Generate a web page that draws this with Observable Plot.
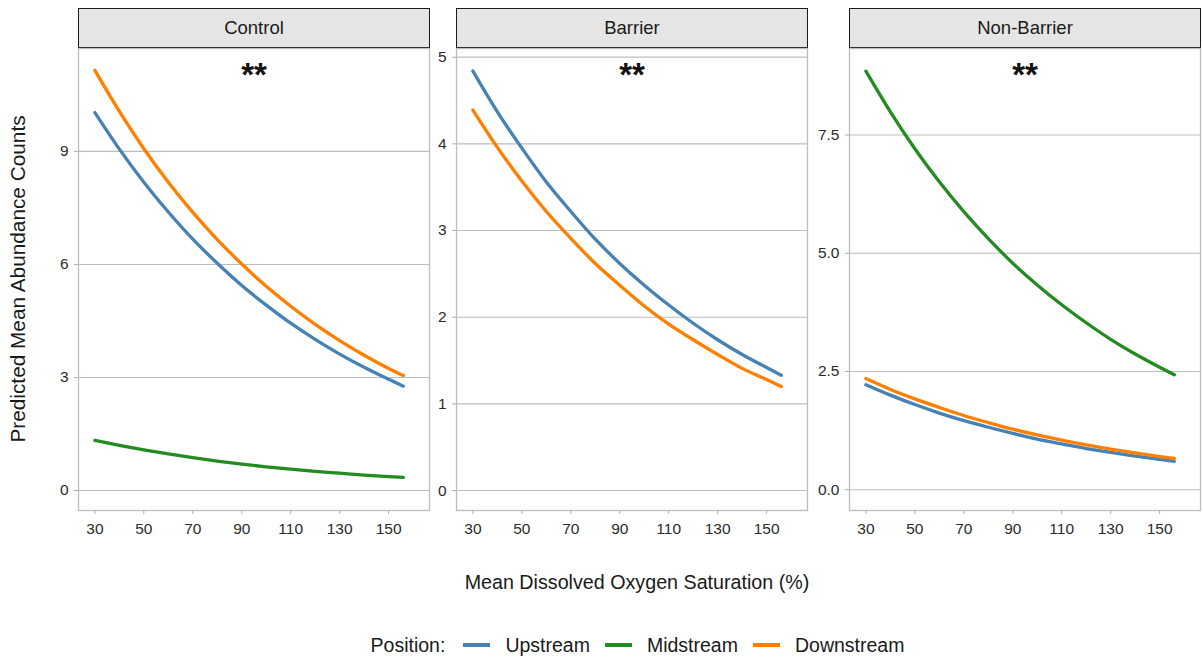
<!DOCTYPE html>
<html>
<head>
<meta charset="utf-8">
<script src="https://cdn.jsdelivr.net/npm/d3@7"></script>
<script src="https://cdn.jsdelivr.net/npm/@observablehq/plot@0.6"></script>
<style>
  body { margin: 0; background: #fff; font-family: "Liberation Sans", Arial, sans-serif; }
  #chart { position: relative; width: 1203px; height: 659px; overflow: hidden; background: #fff; }
  .strip { position: absolute; top: 8px; height: 40px; box-sizing: border-box; background: #e5e5e5;
           border: 1.4px solid #1a1a1a; display: flex; align-items: center; justify-content: center;
           font-size: 18.5px; color: #1a1a1a; }
  #legend { position: absolute; left: 74px; width: 1127px; top: 632px; height: 26px; display: flex;
            align-items: center; justify-content: center; font-size: 19.5px; color: #1a1a1a; }
  #legend .sw { width: 27px; height: 3.5px; margin: 0 15px 0 0; }
  #legend .first { margin-left: 18px; }
  #legend .lab { margin-right: 15px; }
  #legend .lab.last { margin-right: 0; }
  #overlay { position: absolute; left: 0; top: 0; pointer-events: none; }
</style>
</head>
<body>
<div id="chart"></div>
<script>
// ---------- data ----------
const positions = ["Upstream", "Midstream", "Downstream"];
const positionColors = ["#4682b4", "#228b22", "#ff7f00"];
const panels = ["Control", "Barrier", "Non-Barrier"];

const oxygen = [30, 40, 50, 60, 70, 80, 90, 100, 110, 120, 130, 140, 150, 156];

const controlUpstream   = [10.03, 9.06, 8.18, 7.39, 6.67, 6.03, 5.44, 4.92, 4.44, 4.01, 3.62, 3.27, 2.95, 2.77];
const controlMidstream  = [1.33, 1.20, 1.08, 0.97, 0.87, 0.78, 0.70, 0.63, 0.57, 0.51, 0.46, 0.41, 0.37, 0.35];
const controlDownstream = [11.15, 10.06, 9.07, 8.18, 7.38, 6.66, 6.01, 5.42, 4.89, 4.41, 3.98, 3.59, 3.24, 3.05];

const barrierUpstream   = [4.84, 4.37, 3.95, 3.56, 3.22, 2.90, 2.62, 2.37, 2.14, 1.93, 1.74, 1.57, 1.42, 1.33];
const barrierDownstream = [4.39, 3.96, 3.57, 3.22, 2.91, 2.62, 2.37, 2.13, 1.92, 1.74, 1.57, 1.41, 1.28, 1.20];

const nonBarrierUpstream   = [2.22, 2.00, 1.80, 1.62, 1.46, 1.32, 1.19, 1.07, 0.97, 0.87, 0.79, 0.71, 0.64, 0.60];
const nonBarrierMidstream  = [8.85, 7.99, 7.21, 6.51, 5.88, 5.31, 4.79, 4.33, 3.91, 3.53, 3.18, 2.87, 2.59, 2.43];
const nonBarrierDownstream = [2.35, 2.12, 1.92, 1.74, 1.57, 1.42, 1.28, 1.16, 1.05, 0.95, 0.86, 0.78, 0.70, 0.66];

const xTicks = [30, 50, 70, 90, 110, 130, 150];
const controlTicks = [0, 3, 6, 9];
const barrierTicks = [0, 1, 2, 3, 4, 5];
const nonBarrierTicks = [0, 2.5, 5, 7.5];
const significance = ["**", "**", "**"];

const xTitle = "Mean Dissolved Oxygen Saturation (%)";
const yTitle = "Predicted Mean Abundance Counts";
const legendTitle = "Position:";

// ---------- build tables ----------
function rows(series) {
  const out = [];
  for (const [pos, vals] of series) vals.forEach((v, i) => out.push({x: oxygen[i], y: v, pos}));
  return out;
}
const panelData = [
  rows([["Midstream", controlMidstream], ["Upstream", controlUpstream], ["Downstream", controlDownstream]]),
  rows([["Upstream", barrierUpstream], ["Downstream", barrierDownstream]]),
  rows([["Midstream", nonBarrierMidstream], ["Upstream", nonBarrierUpstream], ["Downstream", nonBarrierDownstream]])
];
const yDomains = [[-0.53, 11.73], [-0.23, 5.10], [-0.44, 9.33]];
const yTicksAll = [controlTicks, barrierTicks, nonBarrierTicks];
const yFormats = [d3.format("d"), d3.format("d"), d3.format(".1f")];
const panelLefts = [78, 456, 849];
const panelW = 351, panelH = 462;

const chart = document.getElementById("chart");
const mL = 50, mB = 40;

panels.forEach((name, k) => {
  const strip = document.createElement("div");
  strip.className = "strip";
  strip.style.left = panelLefts[k] + "px";
  strip.style.width = (panelW + 1) + "px";
  strip.textContent = name;
  chart.appendChild(strip);

  const p = Plot.plot({
    width: panelW + mL + 1,
    height: panelH + mB + 1,
    marginLeft: mL, marginRight: 1, marginTop: 1, marginBottom: mB,
    style: {fontSize: "15.5px", fontFamily: "'Liberation Sans', Arial, sans-serif", color: "#2b2b2b", overflow: "visible", background: "transparent"},
    x: {domain: [23.3, 166.7], ticks: xTicks},
    y: {domain: yDomains[k]},
    color: {domain: positions, range: positionColors},
    marks: [
      Plot.gridY(yTicksAll[k], {stroke: "#bdbdbd", strokeOpacity: 1, strokeWidth: 1.1}),
      Plot.frame({stroke: "#bdbdbd", strokeWidth: 1.3}),
      Plot.axisX({ticks: xTicks, tickSize: 4, tickPadding: 8, stroke: "#adadad", label: null}),
      Plot.axisY({ticks: yTicksAll[k], tickFormat: yFormats[k], tickSize: 4, tickPadding: 6, stroke: "#adadad", label: null}),
      Plot.line(panelData[k], {x: "x", y: "y", z: "pos", stroke: "pos", strokeWidth: 3.3, curve: "monotone-x"}),
      Plot.text([significance[k]], {text: d => d, frameAnchor: "top", lineAnchor: "bottom", dy: 37, fontSize: 33, fontWeight: "bold", fill: "#111"})
    ]
  });
  p.style.left = (panelLefts[k] - mL) + "px";
  p.style.position = "absolute";
  p.style.top = "47px";
  chart.appendChild(p);
});

// titles
const ns = "http://www.w3.org/2000/svg";
const ov = document.createElementNS(ns, "svg");
ov.setAttribute("id", "overlay");
ov.setAttribute("width", 1203);
ov.setAttribute("height", 659);
const xt = document.createElementNS(ns, "text");
xt.setAttribute("x", 637); xt.setAttribute("y", 589);
xt.setAttribute("text-anchor", "middle");
xt.setAttribute("font-size", "19.7px");
xt.setAttribute("fill", "#1a1a1a");
xt.setAttribute("font-family", "'Liberation Sans', Arial, sans-serif");
xt.textContent = xTitle;
ov.appendChild(xt);
const yt = document.createElementNS(ns, "text");
yt.setAttribute("transform", "translate(25,279) rotate(-90)");
yt.setAttribute("text-anchor", "middle");
yt.setAttribute("font-size", "20.8px");
yt.setAttribute("fill", "#1a1a1a");
yt.setAttribute("font-family", "'Liberation Sans', Arial, sans-serif");
yt.textContent = yTitle;
ov.appendChild(yt);
chart.appendChild(ov);

// legend
const lg = document.createElement("div");
lg.id = "legend";
const lt = document.createElement("span");
lt.textContent = legendTitle;
lg.appendChild(lt);
positions.forEach((pname, i) => {
  const sw = document.createElement("span");
  sw.className = "sw" + (i === 0 ? " first" : "");
  sw.style.background = positionColors[i];
  lg.appendChild(sw);
  const lb = document.createElement("span");
  lb.className = "lab" + (i === positions.length - 1 ? " last" : "");
  lb.textContent = pname;
  lg.appendChild(lb);
});
chart.appendChild(lg);
</script>
</body>
</html>
